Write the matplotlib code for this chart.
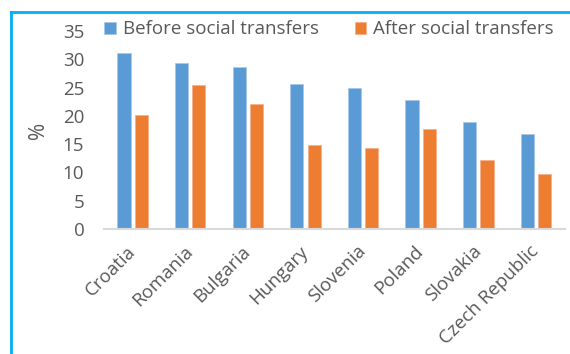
import numpy as np
import matplotlib.pyplot as plt
from matplotlib.lines import Line2D

#%% Data
countries = ["Croatia", "Romania", "Bulgaria", "Hungary", "Slovenia",
             "Poland", "Slovakia", "Czech Republic"]
before = [31.1, 29.3, 28.6, 25.7, 24.9, 22.9, 19.0, 16.8]
after = [20.1, 25.5, 22.1, 14.8, 14.3, 17.7, 12.2, 9.7]
yticks = [0, 5, 10, 15, 20, 25, 30, 35]

#%% Style
plt.rcParams['font.family'] = ['Open Sans', 'DejaVu Sans']
blue, orange, grey = '#5B9BD5', '#ED7D31', '#595959'

fig = plt.figure(figsize=(5.7, 3.54), dpi=100)
ax = fig.add_axes([0.182, 0.353, 0.809, 0.559])

x = np.arange(len(countries))
w = 0.23
ax.bar(x - 0.15, before, w, color=blue, edgecolor='#A9C8EA', linewidth=0.6,
       label="Before social transfers")
ax.bar(x + 0.15, after, w, color=orange, edgecolor='#F5B08A', linewidth=0.6,
       label="After social transfers")

ax.set_xlim(-0.5, len(countries) - 0.5)
ax.set_ylim(0, 35)
ax.set_yticks(yticks)
ax.set_xticks(x)
ax.set_xticklabels(countries, rotation=45, ha='right', va='center',
                   rotation_mode='anchor')
ax.tick_params(axis='both', length=0, labelsize=13.5, colors=grey)
ax.tick_params(axis='y', pad=14)
ax.tick_params(axis='x', pad=14)
ax.set_ylabel("%", fontsize=15, color=grey, labelpad=10)

for s in ['top', 'right', 'left']:
    ax.spines[s].set_visible(False)
ax.spines['bottom'].set_color('#D9D9D9')
ax.spines['bottom'].set_linewidth(1.5)

ax.legend(loc='lower left', bbox_to_anchor=(-0.015, 0.925), ncol=2, frameon=False,
          fontsize=13.5, labelcolor=grey, handlelength=0.6, handleheight=0.6,
          handletextpad=0.4, columnspacing=1.9, borderaxespad=0)

# frame border (left and top)
fig.add_artist(Line2D([11/570, 11/570], [0, 1 - 12/354], color='#00B0F0', lw=2,
                      transform=fig.transFigure))
fig.add_artist(Line2D([11/570, 1], [1 - 12/354, 1 - 12/354], color='#00B0F0', lw=2,
                      transform=fig.transFigure))

fig.savefig("out.png", dpi=100)
